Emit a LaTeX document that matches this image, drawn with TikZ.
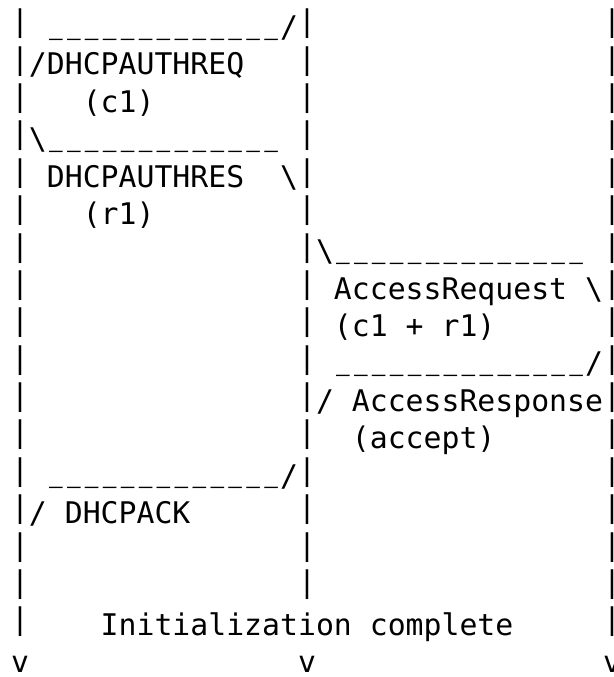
\documentclass[tikz,border=0pt]{standalone}
\usepackage{fontspec}
\usepackage{graphicx}
\newfontfamily\ascfont{DejaVu Sans Mono}
\tikzset{
  txt/.style={anchor=base west, inner sep=0pt, outer sep=0pt, text=black,
              font=\ascfont\fontsize{29.8pt}{36pt}\selectfont},
  bar/.style={txt, yshift=5.8pt},
  rulerun/.style={txt, yshift=5.5pt},
}
\newcommand\ascnode[5]{\node[#1] (#2) at ({11.03+17.94*(#3)},{639.4-37.375*((#4)-1)}) {#5};}
\newcommand\usc{\makebox[17.94pt]{\scalebox{0.76}[1.15]{\_}}}
\newcommand\uthirteen{\usc\usc\usc\usc\usc\usc\usc\usc\usc\usc\usc\usc\usc}
\newcommand\ufourteen{\usc\usc\usc\usc\usc\usc\usc\usc\usc\usc\usc\usc\usc\usc}
\begin{document}
\begin{tikzpicture}[x=1pt,y=1pt]
\useasboundingbox (0,0) rectangle (613,677);
% lifelines
\foreach \r in {1,...,17} {\ascnode{bar}{l\r}{0}{\r}{|}}
\foreach \r in {1,...,16} {\ascnode{bar}{m\r}{16}{\r}{|}}
\foreach \r in {1,...,17} {\ascnode{bar}{rr\r}{33}{\r}{|}}
% row 1
\ascnode{rulerun}{u1}{2}{1}{\uthirteen}
\ascnode{txt}{s1}{15}{1}{/}
% row 2
\ascnode{txt}{req}{1}{2}{/DHCPAUTHREQ}
\ascnode{txt}{c1}{4}{3}{(c1)}
% row 4
\ascnode{txt}{b4}{1}{4}{\textbackslash}
\ascnode{rulerun}{u4}{2}{4}{\uthirteen}
% row 5
\ascnode{txt}{res}{2}{5}{DHCPAUTHRES}
\ascnode{txt}{b5}{15}{5}{\textbackslash}
\ascnode{txt}{r1}{4}{6}{(r1)}
% row 7
\ascnode{txt}{b7}{17}{7}{\textbackslash}
\ascnode{rulerun}{u7}{18}{7}{\ufourteen}
\ascnode{txt}{areq}{18}{8}{AccessRequest \textbackslash}
\ascnode{txt}{cr}{18}{9}{(c1 + r1)}
% row 10
\ascnode{rulerun}{u10}{18}{10}{\ufourteen}
\ascnode{txt}{s10}{32}{10}{/}
\ascnode{txt}{ares}{17}{11}{/ AccessResponse}
\ascnode{txt}{acc}{19}{12}{(accept)}
% row 13
\ascnode{rulerun}{u13}{2}{13}{\uthirteen}
\ascnode{txt}{s13}{15}{13}{/}
\ascnode{txt}{ack}{1}{14}{/ DHCPACK}
\ascnode{txt}{init}{5}{17}{Initialization complete}
% arrows
\ascnode{txt}{vl}{0}{18}{v}
\ascnode{txt}{vm}{16}{18}{v}
\ascnode{txt}{vr}{33}{18}{v}
\end{tikzpicture}
\end{document}
